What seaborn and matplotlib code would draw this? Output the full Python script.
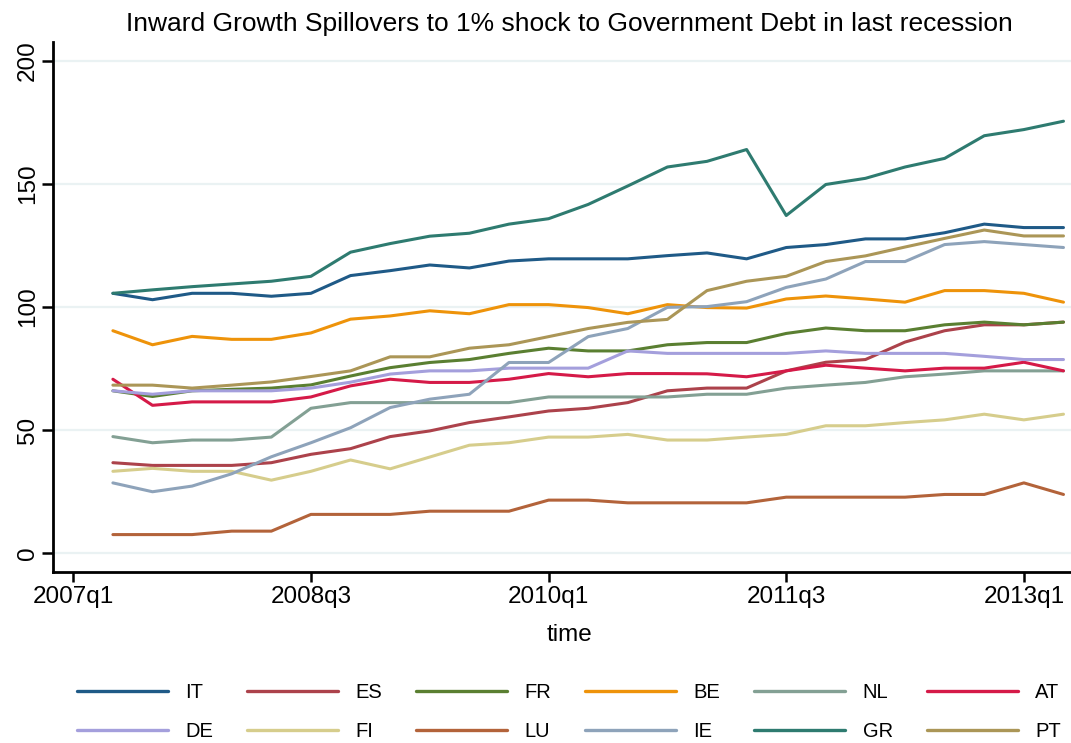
import numpy as np
import pandas as pd
import matplotlib
matplotlib.use("Agg")
import matplotlib.pyplot as plt
import seaborn as sns

# ---------------- data ----------------
quarters = ["2007q2", "2007q3", "2007q4", "2008q1", "2008q2", "2008q3", "2008q4",
            "2009q1", "2009q2", "2009q3", "2009q4", "2010q1", "2010q2", "2010q3",
            "2010q4", "2011q1", "2011q2", "2011q3", "2011q4", "2012q1", "2012q2",
            "2012q3", "2012q4", "2013q1", "2013q2"]

IT = [105.6, 103.0, 105.6, 105.6, 104.4, 105.6, 112.8, 114.8, 117.1, 115.9, 118.7, 119.6, 119.6,
      119.6, 120.9, 122.0, 119.6, 124.2, 125.4, 127.7, 127.7, 130.2, 133.7, 132.3, 132.3]
ES = [36.8, 35.7, 35.7, 35.7, 36.8, 40.2, 42.5, 47.4, 49.7, 53.1, 55.4, 57.8, 58.9,
      61.2, 66.0, 67.1, 67.1, 74.1, 77.6, 78.7, 85.8, 90.4, 92.8, 92.8, 93.9]
FR = [66.0, 63.7, 66.0, 66.6, 67.1, 68.4, 72.0, 75.4, 77.5, 78.7, 81.2, 83.3, 82.2,
      82.2, 84.7, 85.6, 85.6, 89.3, 91.5, 90.4, 90.4, 92.8, 93.9, 92.8, 93.9]
BE = [90.4, 84.7, 88.1, 86.9, 86.9, 89.5, 95.1, 96.4, 98.5, 97.3, 101.0, 101.0, 99.8,
      97.3, 101.0, 99.8, 99.6, 103.3, 104.5, 103.3, 102.0, 106.7, 106.7, 105.6, 102.0]
NL = [47.4, 44.9, 46.0, 46.0, 47.2, 58.9, 61.2, 61.2, 61.2, 61.2, 61.2, 63.5, 63.5,
      63.5, 63.5, 64.6, 64.6, 67.1, 68.3, 69.4, 71.7, 72.8, 74.1, 74.1, 74.1]
AT = [70.7, 60.1, 61.5, 61.5, 61.5, 63.5, 68.0, 70.7, 69.4, 69.4, 70.7, 73.0, 71.7,
      73.0, 73.0, 72.9, 71.7, 74.1, 76.4, 75.2, 74.1, 75.2, 75.2, 77.6, 74.1]
DE = [66.0, 64.6, 66.0, 66.0, 66.0, 67.1, 69.5, 72.8, 74.1, 74.1, 75.2, 75.2, 75.2,
      82.2, 81.2, 81.2, 81.2, 81.2, 82.2, 81.2, 81.2, 81.2, 80.0, 78.7, 78.7]
FI = [33.3, 34.5, 33.3, 33.3, 29.7, 33.3, 37.9, 34.3, 39.1, 43.9, 44.9, 47.2, 47.2,
      48.3, 46.0, 46.0, 47.2, 48.3, 51.8, 51.8, 53.1, 54.2, 56.5, 54.2, 56.5]
LU = [7.6, 7.6, 7.6, 9.0, 9.0, 15.8, 15.8, 15.8, 17.1, 17.1, 17.1, 21.6, 21.6,
      20.5, 20.5, 20.5, 20.5, 22.8, 22.8, 22.8, 22.8, 23.9, 23.9, 28.6, 23.9]
IE = [28.6, 25.0, 27.3, 32.3, 39.2, 44.9, 51.0, 59.2, 62.6, 64.6, 77.5, 77.5, 88.0,
      91.3, 99.9, 100.2, 102.2, 108.0, 111.4, 118.5, 118.5, 125.4, 126.6, 125.4, 124.2]
GR = [105.6, 107.0, 108.3, 109.4, 110.5, 112.5, 122.3, 125.8, 128.8, 130.0, 133.7, 135.9, 141.7,
      149.2, 156.9, 159.2, 164.0, 137.2, 149.8, 152.3, 156.9, 160.4, 169.6, 172.1, 175.5]
PT = [68.3, 68.3, 67.1, 68.3, 69.6, 71.8, 74.1, 79.8, 79.8, 83.3, 84.7, 88.0, 91.3,
      93.8, 95.0, 106.7, 110.5, 112.5, 118.5, 120.8, 124.4, 127.9, 131.3, 128.9, 128.9]

countries = ["IT", "ES", "FR", "BE", "NL", "AT", "DE", "FI", "LU", "IE", "GR", "PT"]
series = [IT, ES, FR, BE, NL, AT, DE, FI, LU, IE, GR, PT]
colors = ["#1f5a87", "#ac424b", "#5a7f31", "#ee930a", "#83a094", "#d51a48",
          "#a49fdc", "#d6cd8c", "#b3633a", "#8ea3ba", "#2e7b70", "#ab9657"]

tick_labels = ["2007q1", "2008q3", "2010q1", "2011q3", "2013q1"]
y_ticks = [0, 50, 100, 150, 200]

title = "Inward Growth Spillovers to 1% shock to Government Debt in last recession"


def qindex(q):
    # quarters since 2007q1
    return (int(q[:4]) - 2007) * 4 + int(q[-1]) - 1


rows = []
for c, vals in zip(countries, series):
    for q, v in zip(quarters, vals):
        rows.append({"time": qindex(q), "value": v, "country": c})
df = pd.DataFrame(rows)

# ---------------- plot ----------------
sns.set_theme(style="ticks")
plt.rcParams["font.family"] = ["Liberation Sans", "DejaVu Sans"]
plt.rcParams["text.color"] = "black"
plt.rcParams["xtick.color"] = "black"
plt.rcParams["ytick.color"] = "black"
plt.rcParams["xtick.labelcolor"] = "black"
plt.rcParams["ytick.labelcolor"] = "black"

fig = plt.figure(figsize=(10.71, 7.43), dpi=100)
ax = fig.add_axes([0.0492, 0.2298, 0.9508, 0.7141])

for yv in y_ticks:
    ax.axhline(yv, color="#eaf2f3", lw=1.6, zorder=0)

palette = dict(zip(countries, colors))
sns.lineplot(data=df, x="time", y="value", hue="country", hue_order=countries,
             palette=palette, linewidth=2.2, ax=ax, legend=True)

ax.set_xlim(-0.52, 25.19)
ax.set_ylim(-7.7, 207.8)
ax.set_xticks([qindex(t) for t in tick_labels])
ax.set_xticklabels(tick_labels, fontsize=17.5, color="black")
ax.set_yticks(y_ticks)
ax.set_yticklabels([str(v) for v in y_ticks], fontsize=17.5, rotation=90, va="center",
                   color="black")
ax.tick_params(axis="x", direction="out", length=7, width=1.8, colors="black", pad=3)
ax.tick_params(axis="y", direction="out", length=8, width=1.8, colors="black", pad=2)
for s in ["top", "right"]:
    ax.spines[s].set_visible(False)
for s in ["left", "bottom"]:
    ax.spines[s].set_color("black")
    ax.spines[s].set_linewidth(2.0)
ax.set_xlabel("")
ax.set_ylabel("")
fig.text(0.532, 1 - 30.5 / 743, title, fontsize=19, ha="center", va="baseline",
         color="black")
fig.text(0.532, 1 - 641 / 743, "time", fontsize=17.5, ha="center", va="baseline",
         color="black")

handles, labels = ax.get_legend_handles_labels()
ax.get_legend().remove()
hmap = dict(zip(labels, handles))
# two rows of six, filled row-wise
order = []
for col in range(6):
    order += [countries[col], countries[col + 6]]
leg = fig.legend([hmap[c] for c in order], order, ncol=6, loc="center",
                 bbox_to_anchor=(0.531, 0.0415), frameon=False, fontsize=14.5,
                 handlelength=4.53, handletextpad=0.85, columnspacing=1.69,
                 labelspacing=1.0, labelcolor="black")
for h in leg.legend_handles:
    h.set_linewidth(2.4)

fig.savefig("out.png", dpi=100, facecolor="white")
